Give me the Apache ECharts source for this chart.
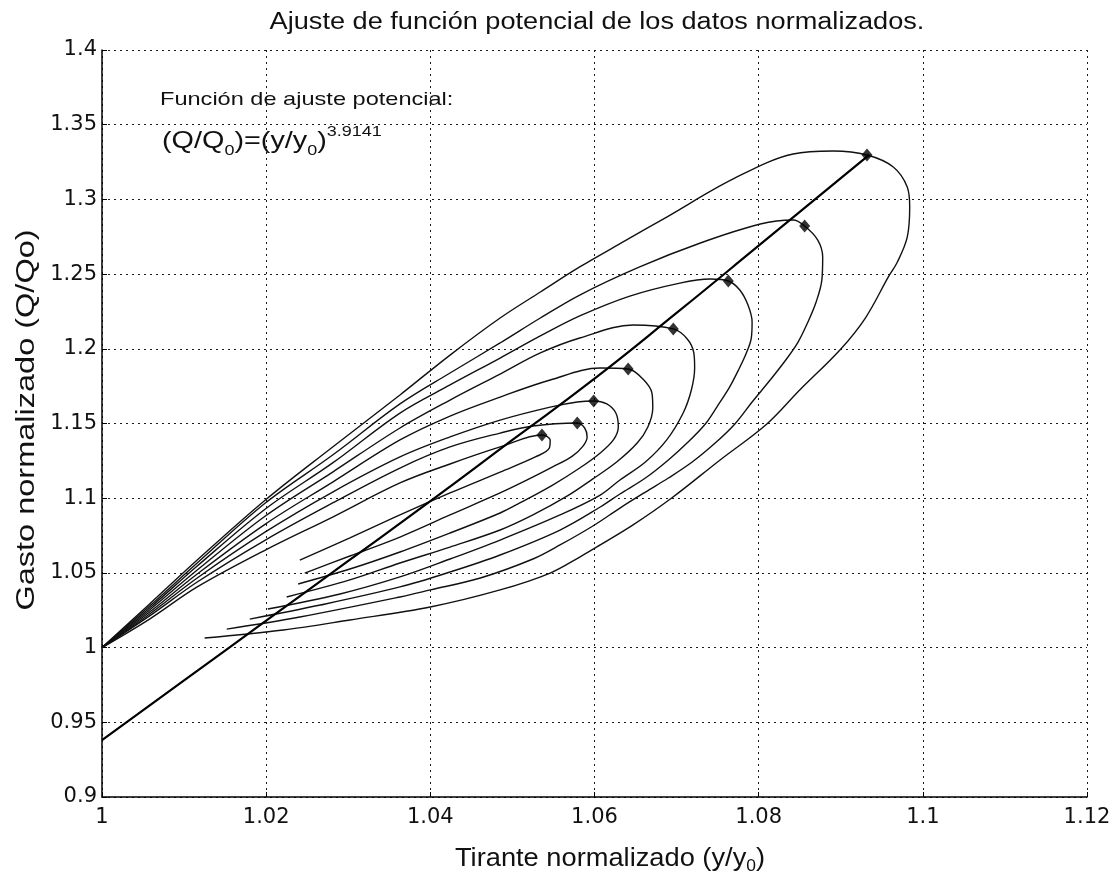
<!DOCTYPE html>
<html>
<head>
<meta charset="utf-8">
<title>Ajuste de función potencial</title>
<script src="https://cdn.jsdelivr.net/npm/echarts@6/dist/echarts.min.js"></script>
<style>
  html, body { margin: 0; padding: 0; background: #fff; }
  #chart { width: 1119px; height: 877px; }
</style>
</head>
<body>
<div id="chart"></div>
<script>
// Tick labels of both axes
const xTickLabels = ['1', '1.02', '1.04', '1.06', '1.08', '1.1', '1.12'];
const yTickLabels = ['0.9', '0.95', '1', '1.05', '1.1', '1.15', '1.2', '1.25', '1.3', '1.35', '1.4'];

// Hysteresis loops (y/y0, Q/Q0), smallest event first.
// Each one rises from (1,1), passes its peak flow and returns along the lower branch.
const loop1 = [[1,1],[1.0058,1.0191],[1.0116,1.0406],[1.0199,1.0653],[1.0281,1.0874],[1.0363,1.1102],[1.0424,1.1229],[1.0485,1.1343],[1.0536,1.1423],
  [1.0546,1.1390],[1.0545,1.1336],[1.0528,1.1276],[1.0485,1.1175],[1.0424,1.1035],[1.0363,1.0888],[1.0302,1.0734],[1.0241,1.0586]];
const loop2 = [[1,1],[1.0058,1.0212],[1.0116,1.0439],[1.0199,1.0720],[1.0281,1.0968],[1.0363,1.1202],[1.0424,1.1343],[1.0485,1.1436],[1.0525,1.1483],[1.0579,1.1503],
  [1.0588,1.1470],[1.0591,1.1410],[1.0586,1.1349],[1.0573,1.1282],[1.0549,1.1209],[1.0518,1.1122],[1.0485,1.1035],[1.0424,1.0888],[1.0363,1.0740],[1.0302,1.0613],[1.0247,1.0499]];
const loop3 = [[1,1],[1.0058,1.0225],[1.0116,1.0466],[1.0199,1.0774],[1.0281,1.1041],[1.0363,1.1276],[1.0424,1.1410],[1.0485,1.1523],[1.0546,1.1610],[1.0579,1.1644],[1.0599,1.1651],
  [1.0615,1.1631],[1.0626,1.1570],[1.0629,1.1477],[1.0623,1.1390],[1.0607,1.1303],[1.0582,1.1202],[1.0549,1.1088],[1.0509,1.0968],[1.0485,1.0901],[1.0424,1.0767],[1.0363,1.0640],[1.0302,1.0526],[1.0239,1.0426]];
const loop4 = [[1,1],[1.0058,1.0238],[1.0116,1.0493],[1.0199,1.0827],[1.0281,1.1108],[1.0363,1.1390],[1.0424,1.1550],[1.0485,1.1677],[1.0546,1.1791],[1.0607,1.1871],[1.0641,1.1865],
  [1.0659,1.1798],[1.0670,1.1704],[1.0671,1.1604],[1.0665,1.1477],[1.0652,1.1369],[1.0627,1.1242],[1.0598,1.1129],[1.0567,1.1015],[1.0525,1.0888],[1.0485,1.0787],[1.0424,1.0673],[1.0363,1.0566],[1.0302,1.0453],[1.0225,1.0339]];
const loop5 = [[1,1],[1.0058,1.0252],[1.0116,1.0519],[1.0199,1.0881],[1.0281,1.1175],[1.0363,1.1470],[1.0424,1.1657],[1.0485,1.1831],[1.0534,1.1972],[1.0582,1.2072],[1.0647,1.2159],[1.0696,1.2133],
  [1.0713,1.2066],[1.0721,1.1972],[1.0722,1.1871],[1.0718,1.1724],[1.0708,1.1570],[1.0688,1.1390],[1.0662,1.1242],[1.0631,1.1122],[1.0607,1.1021],[1.0558,1.0888],[1.0485,1.0720],[1.0424,1.0593],[1.0363,1.0473],[1.0290,1.0359],[1.0202,1.0258]];
const loop6 = [[1,1],[1.0058,1.0265],[1.0116,1.0546],[1.0199,1.0928],[1.0281,1.1236],[1.0363,1.1570],[1.0424,1.1758],[1.0485,1.1938],[1.0534,1.2086],[1.0582,1.2220],[1.0643,1.2353],[1.0704,1.2440],[1.0741,1.2467],[1.0763,1.2454],
  [1.0777,1.2394],[1.0787,1.2293],[1.0792,1.2179],[1.0791,1.2072],[1.0785,1.1972],[1.0776,1.1865],[1.0764,1.1738],[1.0749,1.1610],[1.0735,1.1497],[1.0714,1.1376],[1.0690,1.1256],[1.0662,1.1135],[1.0631,1.1028],[1.0607,1.0941],[1.0558,1.0787],[1.0485,1.0620],[1.0424,1.0506],[1.0363,1.0406],[1.0266,1.0285],[1.0180,1.0191]];
const loop7 = [[1,1],[1.0058,1.0278],[1.0116,1.0566],[1.0199,1.0968],[1.0281,1.1289],[1.0363,1.1631],[1.0424,1.1838],[1.0485,1.2039],[1.0534,1.2206],[1.0582,1.2360],[1.0655,1.2548],[1.0729,1.2708],[1.0802,1.2835],[1.0842,1.2862],[1.0856,1.2822],
  [1.0872,1.2728],[1.0878,1.2614],[1.0877,1.2461],[1.0870,1.2313],[1.0860,1.2179],[1.0848,1.2045],[1.0833,1.1925],[1.0814,1.1791],[1.0792,1.1644],[1.0771,1.1497],[1.0747,1.1369],[1.0719,1.1242],[1.0690,1.1135],[1.0662,1.1041],[1.0631,1.0934],[1.0598,1.0814],[1.0558,1.0687],[1.0525,1.0593],[1.0461,1.0466],[1.0400,1.0386],[1.0363,1.0339],[1.0241,1.0205],[1.0152,1.0124]];
const loop8 = [[1,1],[1.0058,1.0292],[1.0116,1.0586],[1.0199,1.0988],[1.0281,1.1343],[1.0363,1.1691],[1.0424,1.1958],[1.0485,1.2206],[1.0534,1.2380],[1.0582,1.2548],[1.0637,1.2722],[1.0688,1.2882],[1.0769,1.3137],[1.0842,1.3304],[1.0891,1.3324],[1.0932,1.3297],
  [1.0964,1.3217],[1.0981,1.3083],[1.0984,1.2949],[1.0981,1.2748],[1.0969,1.2581],[1.0958,1.2481],[1.0930,1.2206],[1.0899,1.1992],[1.0850,1.1724],[1.0810,1.1497],[1.0753,1.1256],[1.0694,1.1001],[1.0647,1.0821],[1.0607,1.0687],[1.0582,1.0606],[1.0546,1.0499],[1.0485,1.0386],[1.0400,1.0272],[1.0302,1.0185],[1.0221,1.0118],[1.0125,1.0064]];

// Peak flow of each event
const peaks = [[1.0536,1.1423],[1.0579,1.1503],[1.0599,1.1651],[1.0641,1.1865],[1.0696,1.2133],[1.0763,1.2454],[1.0856,1.2822],[1.0932,1.3297]];

// Fitted potential curve
const fitCurve = [[1,0.938],[1.01,0.978],[1.02,1.018],[1.03,1.058],[1.04,1.098],[1.05,1.139],[1.06,1.180],[1.07,1.224],[1.08,1.269],[1.0935,1.33]];

const loops = [loop1, loop2, loop3, loop4, loop5, loop6, loop7, loop8];
const FONT = 'Liberation Sans, Arial, Helvetica, sans-serif';
const TICK_FONT = 'DejaVu Sans, Liberation Sans, sans-serif';

const chart = echarts.init(document.getElementById('chart'), null, { renderer: 'canvas' });

const series = loops.map((d, i) => ({
  name: 'evento ' + (i + 1),
  type: 'line',
  data: d,
  smooth: 0.35,
  showSymbol: false,
  lineStyle: { color: '#111', width: 1.4 },
  z: 3
}));
series.push({
  name: 'ajuste',
  type: 'line',
  data: fitCurve,
  smooth: true,
  showSymbol: false,
  lineStyle: { color: '#000', width: 2.2 },
  z: 4
});
series.push({
  name: 'picos',
  type: 'scatter',
  data: peaks,
  symbol: 'diamond',
  symbolSize: [11, 13],
  itemStyle: { color: '#000' },
  z: 5
});

const gridLine = { show: true, lineStyle: { color: '#1a1a1a', width: 1, type: [2, 4] } };

chart.setOption({
  animation: false,
  backgroundColor: '#fff',
  textStyle: { fontFamily: FONT },
  grid: { left: 102, right: 32, top: 50, bottom: 80 },
  xAxis: {
    type: 'value', min: 1, max: 1.12, interval: 0.02,
    axisLine: { show: true, onZero: false, lineStyle: { color: '#000', width: 1.5 } },
    axisTick: { show: true, inside: true, length: 5, lineStyle: { color: '#000' } },
    axisLabel: {
      color: '#111', fontSize: 21, fontFamily: TICK_FONT, margin: 10,
      formatter: v => xTickLabels[Math.round((v - 1) / 0.02)] ?? ''
    },
    splitLine: gridLine
  },
  yAxis: {
    type: 'value', min: 0.9, max: 1.4, interval: 0.05,
    axisLine: { show: true, onZero: false, lineStyle: { color: '#000', width: 1.5 } },
    axisTick: { show: true, inside: true, length: 5, lineStyle: { color: '#000' } },
    axisLabel: {
      color: '#111', fontSize: 21, fontFamily: TICK_FONT, margin: 5,
      formatter: v => yTickLabels[Math.round((v - 0.9) / 0.05)] ?? ''
    },
    splitLine: gridLine
  },
  graphic: [
    {
      // chart title
      type: 'text', x: 597, y: 23, scaleX: 1.18,
      style: {
        text: 'Ajuste de función potencial de los datos normalizados.',
        font: '23px ' + FONT, fill: '#111', align: 'center', verticalAlign: 'middle'
      }
    },
    {
      // fitted law caption
      type: 'text', x: 160, y: 100, scaleX: 1.24,
      style: {
        text: 'Función de ajuste potencial:',
        font: '19px ' + FONT, fill: '#111', align: 'left', verticalAlign: 'middle'
      }
    },
    {
      type: 'text', x: 162, y: 141, scaleX: 1.2,
      style: {
        text: '{n|(Q/Q}{s|0}{n|)=(y/y}{s|0}{n|)}{p|3.9141}',
        align: 'left', verticalAlign: 'middle',
        rich: {
          n: { fontSize: 24, fontFamily: FONT, fill: '#111', lineHeight: 34, verticalAlign: 'middle' },
          s: { fontSize: 15, fontFamily: FONT, fill: '#111', lineHeight: 15, verticalAlign: 'bottom' },
          p: { fontSize: 15, fontFamily: FONT, fill: '#111', lineHeight: 15, verticalAlign: 'top' }
        }
      }
    },
    {
      // x axis name
      type: 'text', x: 610, y: 859, scaleX: 1.09,
      style: {
        text: '{a|Tirante normalizado (y/y}{b|0}{a|)}',
        align: 'center', verticalAlign: 'middle',
        rich: {
          a: { fontSize: 25, fontFamily: FONT, fill: '#111', lineHeight: 32, verticalAlign: 'middle' },
          b: { fontSize: 16, fontFamily: FONT, fill: '#111', lineHeight: 16, verticalAlign: 'bottom' }
        }
      }
    },
    {
      // y axis name
      type: 'text', x: 27, y: 420, rotation: Math.PI / 2, scaleX: 1.3,
      style: {
        text: 'Gasto normalizado (Q/Qo)',
        font: '25px ' + FONT, fill: '#111', align: 'center', verticalAlign: 'middle'
      }
    }
  ],
  series
});
</script>
</body>
</html>
